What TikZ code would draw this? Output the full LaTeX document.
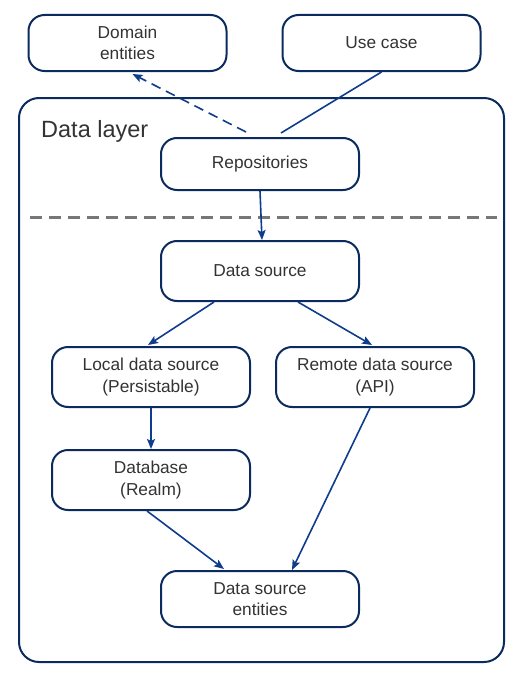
\documentclass[tikz,border=0pt]{standalone}
\usepackage{fontspec}
\setmainfont{Liberation Sans}
\usetikzlibrary{arrows.meta,calc}
\definecolor{boxblue}{HTML}{0B2A5E}
\definecolor{arrowblue}{HTML}{0F3C8C}
\definecolor{txt}{HTML}{333333}
\definecolor{sepgray}{HTML}{777777}
\tikzset{
  card/.style={draw=boxblue, line width=2pt, rounded corners=16pt, fill=white,
    minimum width=198pt, minimum height=56pt, align=center, text=txt,
    font=\fontsize{17.3}{21.5}\selectfont, inner sep=0pt},
  conn/.style={draw=arrowblue, line width=1.6pt, -{Stealth[length=10pt,width=8pt,inset=2pt]}},
  plain/.style={draw=arrowblue, line width=1.6pt},
}
\begin{document}
\begin{tikzpicture}[x=1pt,y=-1pt]
\useasboundingbox (0,0) rectangle (527,693);
\draw[draw=boxblue, line width=2pt, rounded corners=20pt] (19,98) rectangle (504,662);
\node[text=txt, font=\fontsize{23.5}{28}\selectfont, anchor=west, inner sep=0pt] (dl) at (41,131) {Data layer};
\node[card] (dom) at (127.5,43) {Domain\\entities};
\node[card] (uc) at (381.5,43) {Use case};
\node[card, minimum height=52pt] (rep) at (260,164) {Repositories};
\node[card, minimum height=60pt] (ds) at (260,271) {Data source};
\node[card, minimum height=60pt] (loc) at (151,377) {Local data source\\(Persistable)};
\node[card, minimum height=60pt] (rem) at (375,377) {Remote data source\\(API)};
\node[card, minimum height=60pt] (db) at (151,480) {Database\\(Realm)};
\node[card] (dse) at (260,599) {Data source\\entities};
\coordinate (sepL) at (30,217);
\coordinate (sepR) at (497,217);
\draw[sepgray, line width=3pt, dash pattern=on 12pt off 7pt] (sepL) -- (sepR);
\draw[conn, dashed, dash pattern=on 10pt off 6pt] ($(rep.north)+(-14,-5)$) -- ($(dom.south)+(5,2)$);
\draw[plain] ($(uc.south)+(0,0)$) -- ($(rep.north)+(21,-4)$);
\draw[conn] (rep.south) -- ($(ds.north)+(2,0)$);
\draw[conn] ($(ds.south)+(-46,0)$) -- ($(loc.north)+(-3,-1)$);
\draw[conn] ($(ds.south)+(38,0)$) -- ($(rem.north)+(-3,-1)$);
\draw[conn] (loc.south) -- (db.north);
\draw[conn] ($(db.south)+(-4,0)$) -- ($(dse.north)+(-36,-1)$);
\draw[conn] ($(rem.south)+(-5,0)$) -- ($(dse.north)+(32,0)$);
\end{tikzpicture}
\end{document}
